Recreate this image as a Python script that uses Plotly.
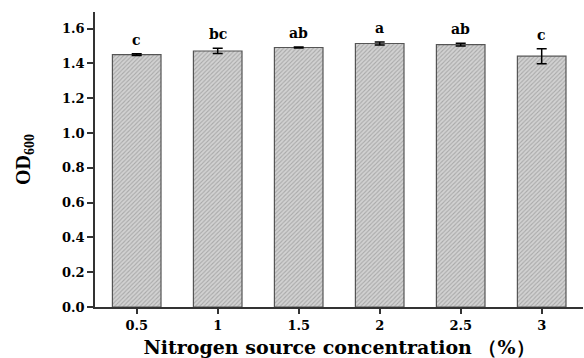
import plotly.graph_objects as go

categories = ["0.5", "1", "1.5", "2", "2.5", "3"]
od_values = [1.450, 1.471, 1.491, 1.514, 1.508, 1.441]
od_errors = [0.005, 0.015, 0.003, 0.008, 0.008, 0.043]
letters = ["c", "bc", "ab", "a", "ab", "c"]

SERIF = "DejaVu Serif"
TIMES = "Liberation Serif"

fig = go.Figure()
fig.add_trace(go.Bar(
    x=categories, y=od_values, width=0.6,
    marker=dict(color="#d2d2d2",
                line=dict(color="#555555", width=1.2),
                pattern=dict(shape="/", fgcolor="#808080", size=3, solidity=0.35, fillmode="overlay")),
    error_y=dict(type="data", array=od_errors, visible=True, color="black", thickness=1.5, width=5),
    showlegend=False,
))

for i, (v, e, lab) in enumerate(zip(od_values, od_errors, letters)):
    fig.add_annotation(
        x=i, y=v + e, text="<b>" + lab + "</b>", showarrow=False,
        xanchor="center", yanchor="bottom", yshift=4,
        font=dict(family=SERIF, size=14, color="black"),
    )

fig.update_layout(
    width=584, height=358,
    margin=dict(l=95, r=1, t=12, b=51),
    plot_bgcolor="white", paper_bgcolor="white",
    font=dict(family=SERIF, color="black"),
    bargap=0.4,
)
fig.update_xaxes(
    type="category", range=[-0.515, 5.51],
    showline=True, linecolor="#333", linewidth=1.8, mirror=False,
    ticks="outside", ticklen=5, tickwidth=1.5, tickcolor="#333",
    tickfont=dict(family=SERIF, size=13, color="black", weight="bold"),
    title=dict(text="<b>Nitrogen source concentration （%）</b>",
               font=dict(family=SERIF, size=19, color="black"), standoff=10),
    showgrid=False,
)
fig.update_yaxes(
    range=[0, 1.695], tickvals=[0, 0.2, 0.4, 0.6, 0.8, 1.0, 1.2, 1.4, 1.6],
    tickformat=".1f",
    showline=True, linecolor="#333", linewidth=1.8,
    ticks="outside", ticklen=6, tickwidth=1.5, tickcolor="#333",
    tickfont=dict(family=SERIF, size=13, color="black", weight="bold"),
    title=dict(text="<b>OD<sub>600</sub></b>",
               font=dict(family=TIMES, size=20, color="black"), standoff=26),
    showgrid=False, zeroline=False,
)

fig.write_html("out.html")
